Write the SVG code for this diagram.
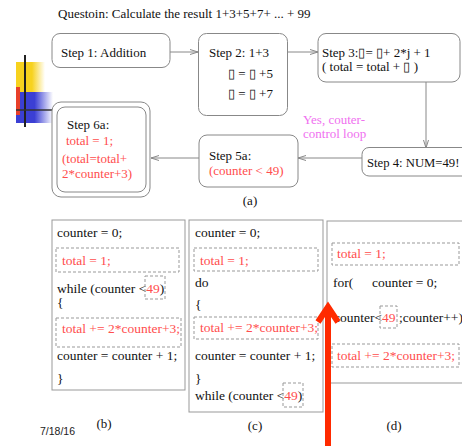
<svg xmlns="http://www.w3.org/2000/svg" width="462" height="446" viewBox="0 0 462 446">
  <defs>
    <style>
      text { font-family: "Liberation Serif", "Times New Roman", serif; font-size: 13px; fill: #111; }
      .code { font-size: 13.5px; }
      .red { fill: #ff4d4d; }
      .pink { fill: #f070f0; }
      .box { fill: #fff; stroke: #888; stroke-width: 1; }
      .panel { fill: #fff; stroke: #999; stroke-width: 1; }
      .dash { fill: none; stroke: #999; stroke-width: 1; stroke-dasharray: 3 2; }
      .conn { fill: none; stroke: #888; stroke-width: 1; marker-end: url(#chev); }
      .cap { text-anchor: middle; }
    </style>
    <marker id="chev" viewBox="0 0 8 6" refX="8" refY="3" markerWidth="8" markerHeight="6" markerUnits="userSpaceOnUse" orient="auto">
      <path d="M0,0.5 L8,3 L0,5.5" fill="none" stroke="#888" stroke-width="1"/>
    </marker>
    <linearGradient id="yel" x1="0" y1="0" x2="1" y2="0">
      <stop offset="0" stop-color="#f7d21e"/>
      <stop offset="0.55" stop-color="#f7d21e"/>
      <stop offset="1" stop-color="#f7d21e" stop-opacity="0"/>
    </linearGradient>
    <linearGradient id="blu" x1="0" y1="0" x2="1" y2="0">
      <stop offset="0" stop-color="#3b3fd4"/>
      <stop offset="0.5" stop-color="#3b3fd4"/>
      <stop offset="1" stop-color="#3b3fd4" stop-opacity="0"/>
    </linearGradient>
  </defs>

  <rect width="462" height="446" fill="#fff"/>

  <!-- corner emblem -->
  <g id="emblem">
    <rect x="16" y="62" width="29" height="30" fill="url(#yel)"/>
    <rect x="16" y="92" width="37" height="31" fill="url(#blu)"/>
    <rect x="16" y="87" width="4" height="28" fill="#e8402a"/>
    <line x1="25" y1="55" x2="25" y2="127" stroke="#222" stroke-width="2"/>
    <line x1="16" y1="110" x2="52" y2="110" stroke="#333" stroke-width="1.5"/>
  </g>

  <text id="title" x="58" y="18">Questoin: Calculate the result 1+3+5+7+ ... + 99</text>

  <!-- (a) flow -->
  <g id="connectors">
    <line class="conn" x1="170" y1="52" x2="198" y2="52"/>
    <line class="conn" x1="288" y1="52" x2="318" y2="52"/>
    <line class="conn" x1="426" y1="82" x2="426" y2="148"/>
    <line class="conn" x1="362" y1="158" x2="298" y2="158"/>
    <line class="conn" x1="199" y1="158" x2="151" y2="158"/>
  </g>

  <g id="step1">
    <rect class="box" x="52" y="33.5" width="118" height="34" rx="8"/>
    <text x="61" y="57">Step 1: Addition</text>
  </g>

  <g id="step2">
    <rect class="box" x="198.5" y="33.5" width="89" height="82" rx="8"/>
    <text x="209" y="57">Step 2: 1+3</text>
    <text x="228" y="78">▯ =  ▯ +5</text>
    <text x="228" y="98">▯ =  ▯ +7</text>
  </g>

  <g id="step3">
    <rect class="box" x="318" y="33.5" width="142" height="48.5" rx="8"/>
    <text x="322" y="57">Step 3:▯= ▯+ 2*j + 1</text>
    <text x="322" y="71">( total = total +  ▯ )</text>
  </g>

  <g id="step4">
    <rect class="box" x="362" y="147.5" width="110" height="28.5" rx="7"/>
    <text x="367" y="167" style="font-size:12.7px">Step 4: NUM=49!</text>
  </g>

  <g id="loop-label">
    <text class="pink" x="303" y="124">Yes, couter-</text>
    <text class="pink" x="303" y="138">control loop</text>
  </g>

  <g id="step5a">
    <rect class="box" x="199" y="135" width="99" height="52" rx="8"/>
    <text x="209" y="160">Step 5a:</text>
    <text class="red" x="209" y="175">(counter &lt; 49)</text>
  </g>

  <g id="step6a">
    <rect class="box" x="52" y="102" width="98" height="95" rx="9"/>
    <rect class="box" x="57" y="107" width="89" height="85" rx="8"/>
    <text x="67" y="129">Step 6a:</text>
    <text class="red" x="66" y="145">total = 1;</text>
    <text class="red" x="62" y="163">(total=total+</text>
    <text class="red" x="62" y="178">2*counter+3)</text>
  </g>

  <text class="cap" x="250" y="205">(a)</text>

  <!-- (b) while loop -->
  <g id="panel-b">
    <rect class="panel" x="52" y="220" width="133" height="170"/>
    <text class="code" x="57" y="237">counter = 0;</text>
    <rect class="dash" x="56" y="248" width="123" height="24"/>
    <text class="code red" x="62" y="265">total = 1;</text>
    <text class="code" x="57" y="293">while (counter &lt;<tspan class="red">49</tspan>)</text>
    <rect class="dash" x="145" y="276" width="20" height="23"/>
    <text class="code" x="57" y="307">{</text>
    <rect class="dash" x="56" y="318" width="125" height="29"/>
    <text class="code red" x="62" y="333">total += 2*counter+3;</text>
    <text class="code" x="57" y="360">counter = counter + 1;</text>
    <text class="code" x="57" y="383">}</text>
    <text class="cap" x="104" y="428">(b)</text>
  </g>

  <!-- (c) do-while loop -->
  <g id="panel-c">
    <rect class="panel" x="189" y="220" width="134" height="192"/>
    <text class="code" x="195" y="237">counter = 0;</text>
    <rect class="dash" x="194" y="248" width="124" height="23"/>
    <text class="code red" x="200" y="265">total = 1;</text>
    <text class="code" x="195" y="287">do</text>
    <text class="code" x="195" y="309">{</text>
    <rect class="dash" x="194" y="317" width="124" height="22"/>
    <text class="code red" x="200" y="332">total += 2*counter+3;</text>
    <text class="code" x="195" y="360">counter = counter + 1;</text>
    <text class="code" x="195" y="383">}</text>
    <text class="code" x="195" y="400">while (counter &lt;<tspan class="red">49</tspan>)</text>
    <rect class="dash" x="283" y="383" width="20" height="24"/>
    <text class="cap" x="255" y="430">(c)</text>
  </g>

  <!-- (d) for loop -->
  <g id="panel-d">
    <rect class="panel" x="327" y="221" width="140" height="162"/>
    <rect class="dash" x="332" y="243" width="127" height="22"/>
    <text class="code red" x="337" y="258">total = 1;</text>
    <text class="code" x="333" y="287">for(<tspan x="372">counter = 0;</tspan></text>
    <text class="code" x="334" y="322">counter&lt;<tspan class="red">49</tspan> ;counter++)</text>
    <rect class="dash" x="380" y="306" width="17" height="22"/>
    <rect class="dash" x="332" y="344" width="127" height="23"/>
    <text class="code red" x="337" y="360">total += 2*counter+3;</text>
    <text class="cap" x="394" y="430">(d)</text>
  </g>

  <!-- red pointer -->
  <g id="pointer">
    <line x1="328" y1="446" x2="328" y2="308" stroke="#ff2a00" stroke-width="6"/>
    <polyline points="318,322 328,307 338,322" fill="none" stroke="#ff2a00" stroke-width="6" stroke-linejoin="miter"/>
  </g>

  <text id="date" x="40" y="435" style="font-family:'Liberation Sans', Arial, sans-serif; font-size:10.5px; fill:#222">7/18/16</text>
</svg>
